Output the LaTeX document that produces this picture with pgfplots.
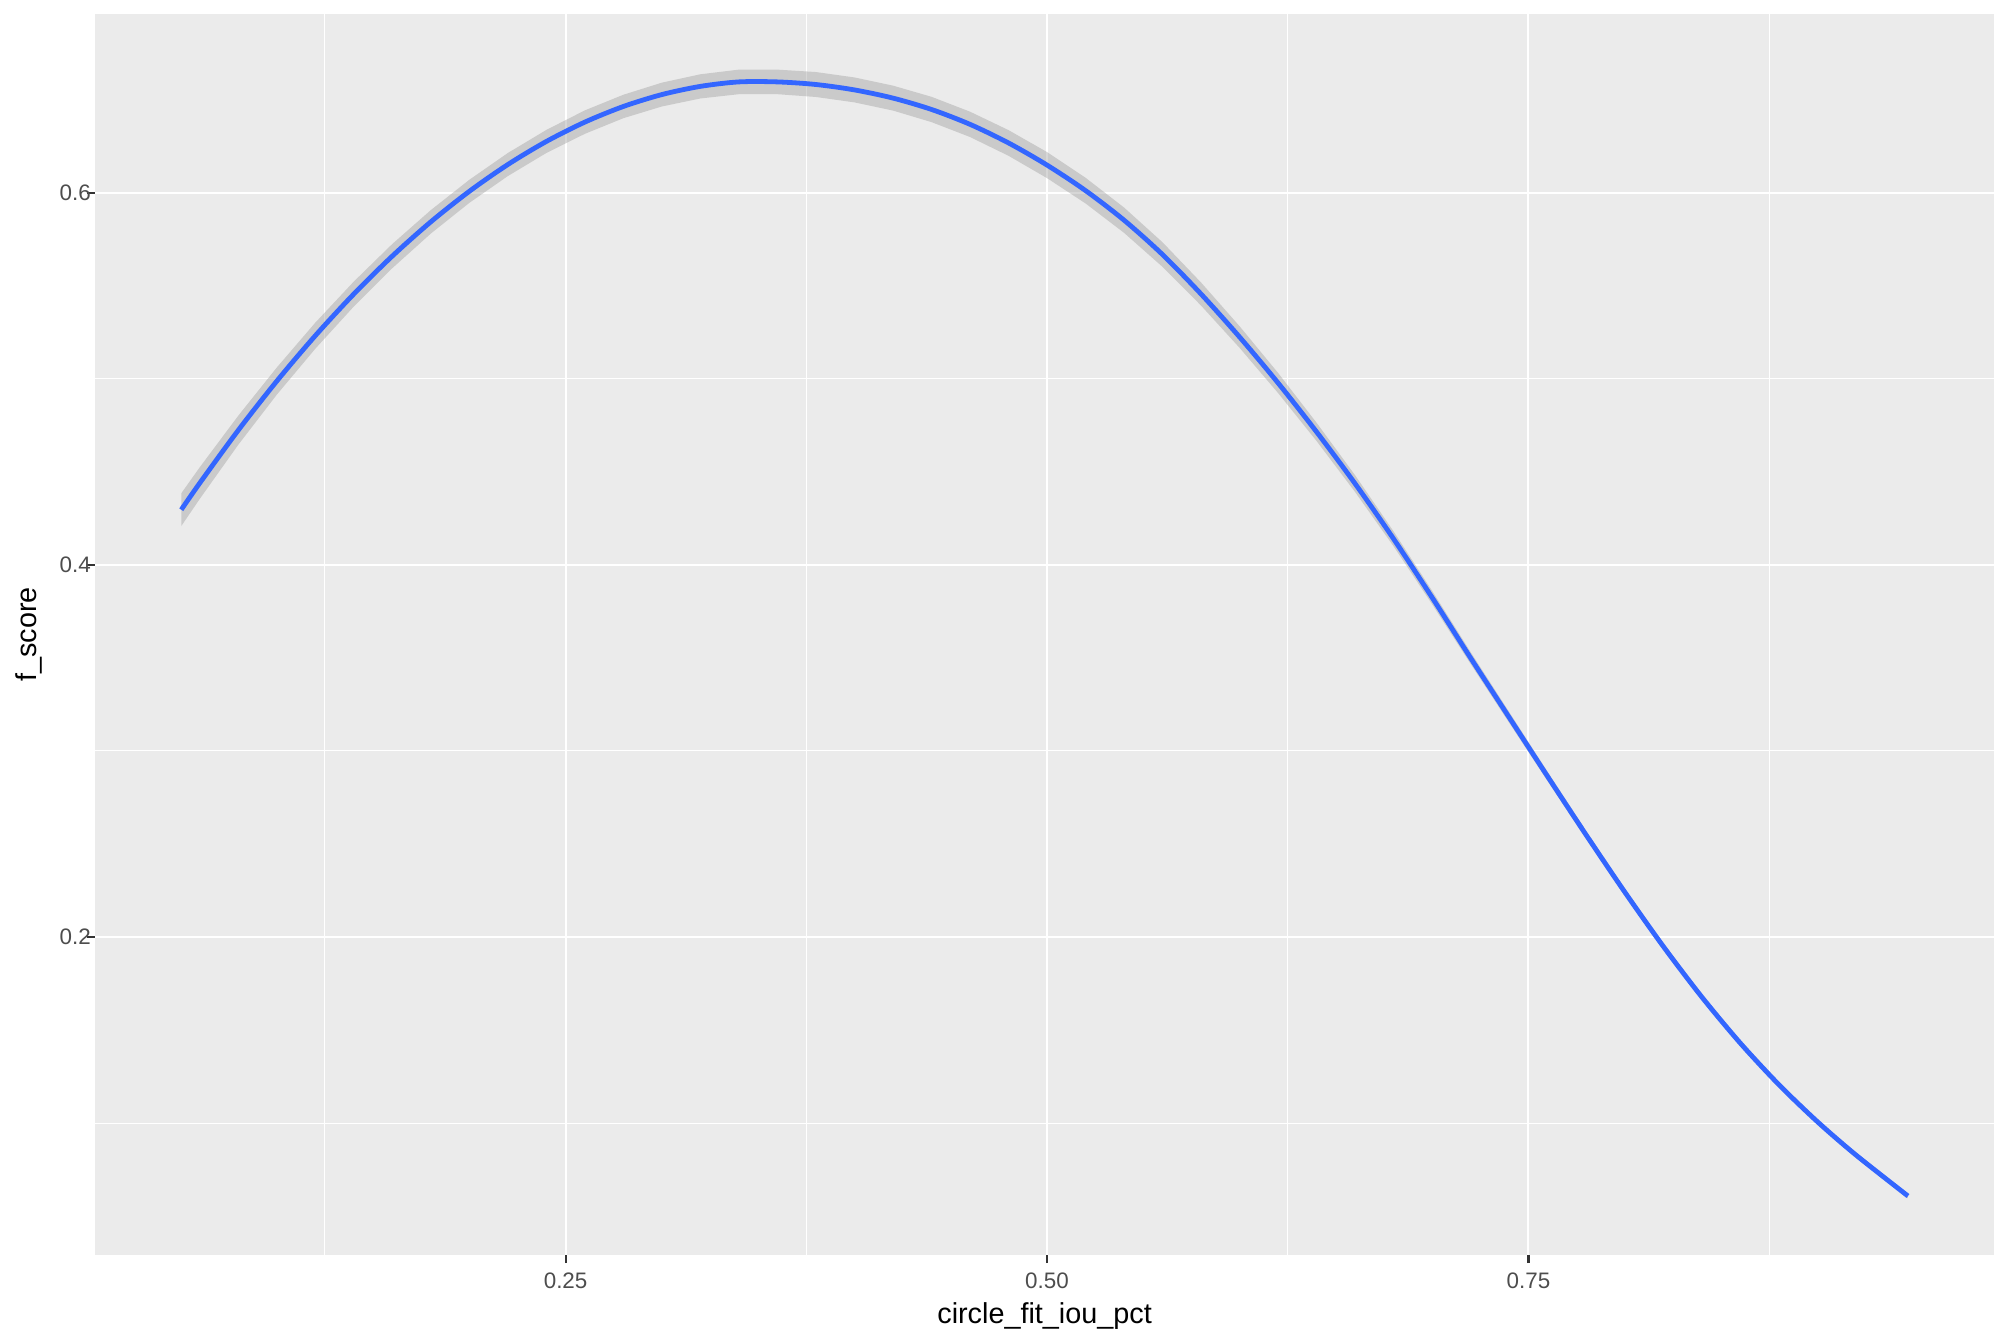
\documentclass[border=0pt]{standalone}
\usepackage{fontspec}
\setmainfont{Liberation Sans}
\usepackage{pgfplots}
\pgfplotsset{compat=1.18}
\usepackage{pgfplotstable}
\usepgfplotslibrary{fillbetween}

\definecolor{panelbg}{HTML}{EBEBEB}
\definecolor{smoothblue}{HTML}{3366FF}
\definecolor{bandgrey}{HTML}{999999}
\definecolor{grey30}{HTML}{4D4D4D}
\definecolor{grey20}{HTML}{333333}

% loess fit: x, fit, lower and upper band
\pgfplotstableread{
x       y       lo      hi
0.0504  0.4296  0.4208  0.4384
0.060   0.4439  0.4354  0.4524
0.080   0.4723  0.4645  0.4801
0.100   0.4987  0.4914  0.5060
0.120   0.5231  0.5161  0.5301
0.140   0.5455  0.5388  0.5522
0.160   0.5659  0.5594  0.5724
0.180   0.5843  0.5780  0.5906
0.200   0.6007  0.5945  0.6069
0.220   0.6151  0.6089  0.6213
0.240   0.6275  0.6213  0.6337
0.260   0.6379  0.6316  0.6442
0.280   0.6463  0.6400  0.6526
0.300   0.6527  0.6463  0.6591
0.320   0.6571  0.6506  0.6636
0.340   0.6595  0.6529  0.6661
0.360   0.6595  0.6529  0.6661
0.380   0.6581  0.6514  0.6648
0.400   0.6552  0.6485  0.6619
0.420   0.6508  0.6441  0.6575
0.440   0.6447  0.6379  0.6515
0.460   0.6367  0.6299  0.6435
0.480   0.6267  0.6198  0.6336
0.500   0.6148  0.6078  0.6218
0.520   0.6011  0.5942  0.6080
0.540   0.5852  0.5784  0.5920
0.560   0.5667  0.5601  0.5733
0.580   0.5455  0.5393  0.5517
0.600   0.5224  0.5166  0.5282
0.620   0.4977  0.4923  0.5031
0.640   0.4714  0.4665  0.4763
0.660   0.4436  0.4391  0.4481
0.680   0.4139  0.4099  0.4179
0.700   0.3824  0.3788  0.3860
0.720   0.3499  0.3467  0.3531
0.740   0.3180  0.3151  0.3209
0.760   0.2862  0.2837  0.2887
0.780   0.2548  0.2526  0.2570
0.800   0.2242  0.2222  0.2262
0.820   0.1950  0.1932  0.1968
0.840   0.1678  0.1661  0.1695
0.860   0.1430  0.1414  0.1446
0.880   0.1207  0.1192  0.1222
0.900   0.1008  0.0994  0.1022
0.920   0.0829  0.0815  0.0843
0.9471  0.0608  0.0595  0.0621
}\fit

\begin{document}
\begin{tikzpicture}
\begin{axis}[
    at={(23.7pt,22.2pt)}, anchor=south west,
    scale only axis, width=474.9pt, height=310.3pt,
    xmin=0.0055, xmax=0.992,
    ymin=0.029, ymax=0.696,
    axis background/.style={fill=panelbg},
    axis line style={draw=none},
    xtick={0.25,0.5,0.75}, xticklabels={0.25,0.50,0.75},
    ytick={0.2,0.4,0.6}, yticklabels={0.2,0.4,0.6},
    minor xtick={0.125,0.375,0.625,0.875},
    minor ytick={0.1,0.3,0.5},
    grid=both,
    major grid style={white, line width=0.5pt},
    minor grid style={white, line width=0.27pt},
    tick align=outside, tick pos=left,
    major tick length=2pt, minor tick length=0pt,
    major tick style={grey20, line width=0.55pt},
    /pgf/number format/assume math mode=true,
    tick label style={font=\fontsize{5.6}{7}\selectfont, text=grey30, inner sep=0pt},
    xticklabel style={anchor=center, yshift=-4.5pt},
    yticklabel style={anchor=east, xshift=1.2pt},
    xlabel={circle\_fit\_iou\_pct}, ylabel={f\_score},
    label style={font=\fontsize{7.2}{9}\selectfont, inner sep=0pt},
    xlabel style={at={(axis description cs:0.5,-0.0548)}, anchor=base},
    ylabel style={at={(axis description cs:-0.0305,0.5)}, anchor=base},
]
\addplot[name path=up, draw=none, forget plot] table[x=x, y=hi] {\fit};
\addplot[name path=lo, draw=none, forget plot] table[x=x, y=lo] {\fit};
\addplot[bandgrey, fill opacity=0.4, draw=none] fill between[of=up and lo];
\addplot[smoothblue, line width=1.2pt, smooth] table[x=x, y=y] {\fit};
\end{axis}
\pgfresetboundingbox
\path (0,0) rectangle (504pt,336pt);
\end{tikzpicture}
\end{document}
